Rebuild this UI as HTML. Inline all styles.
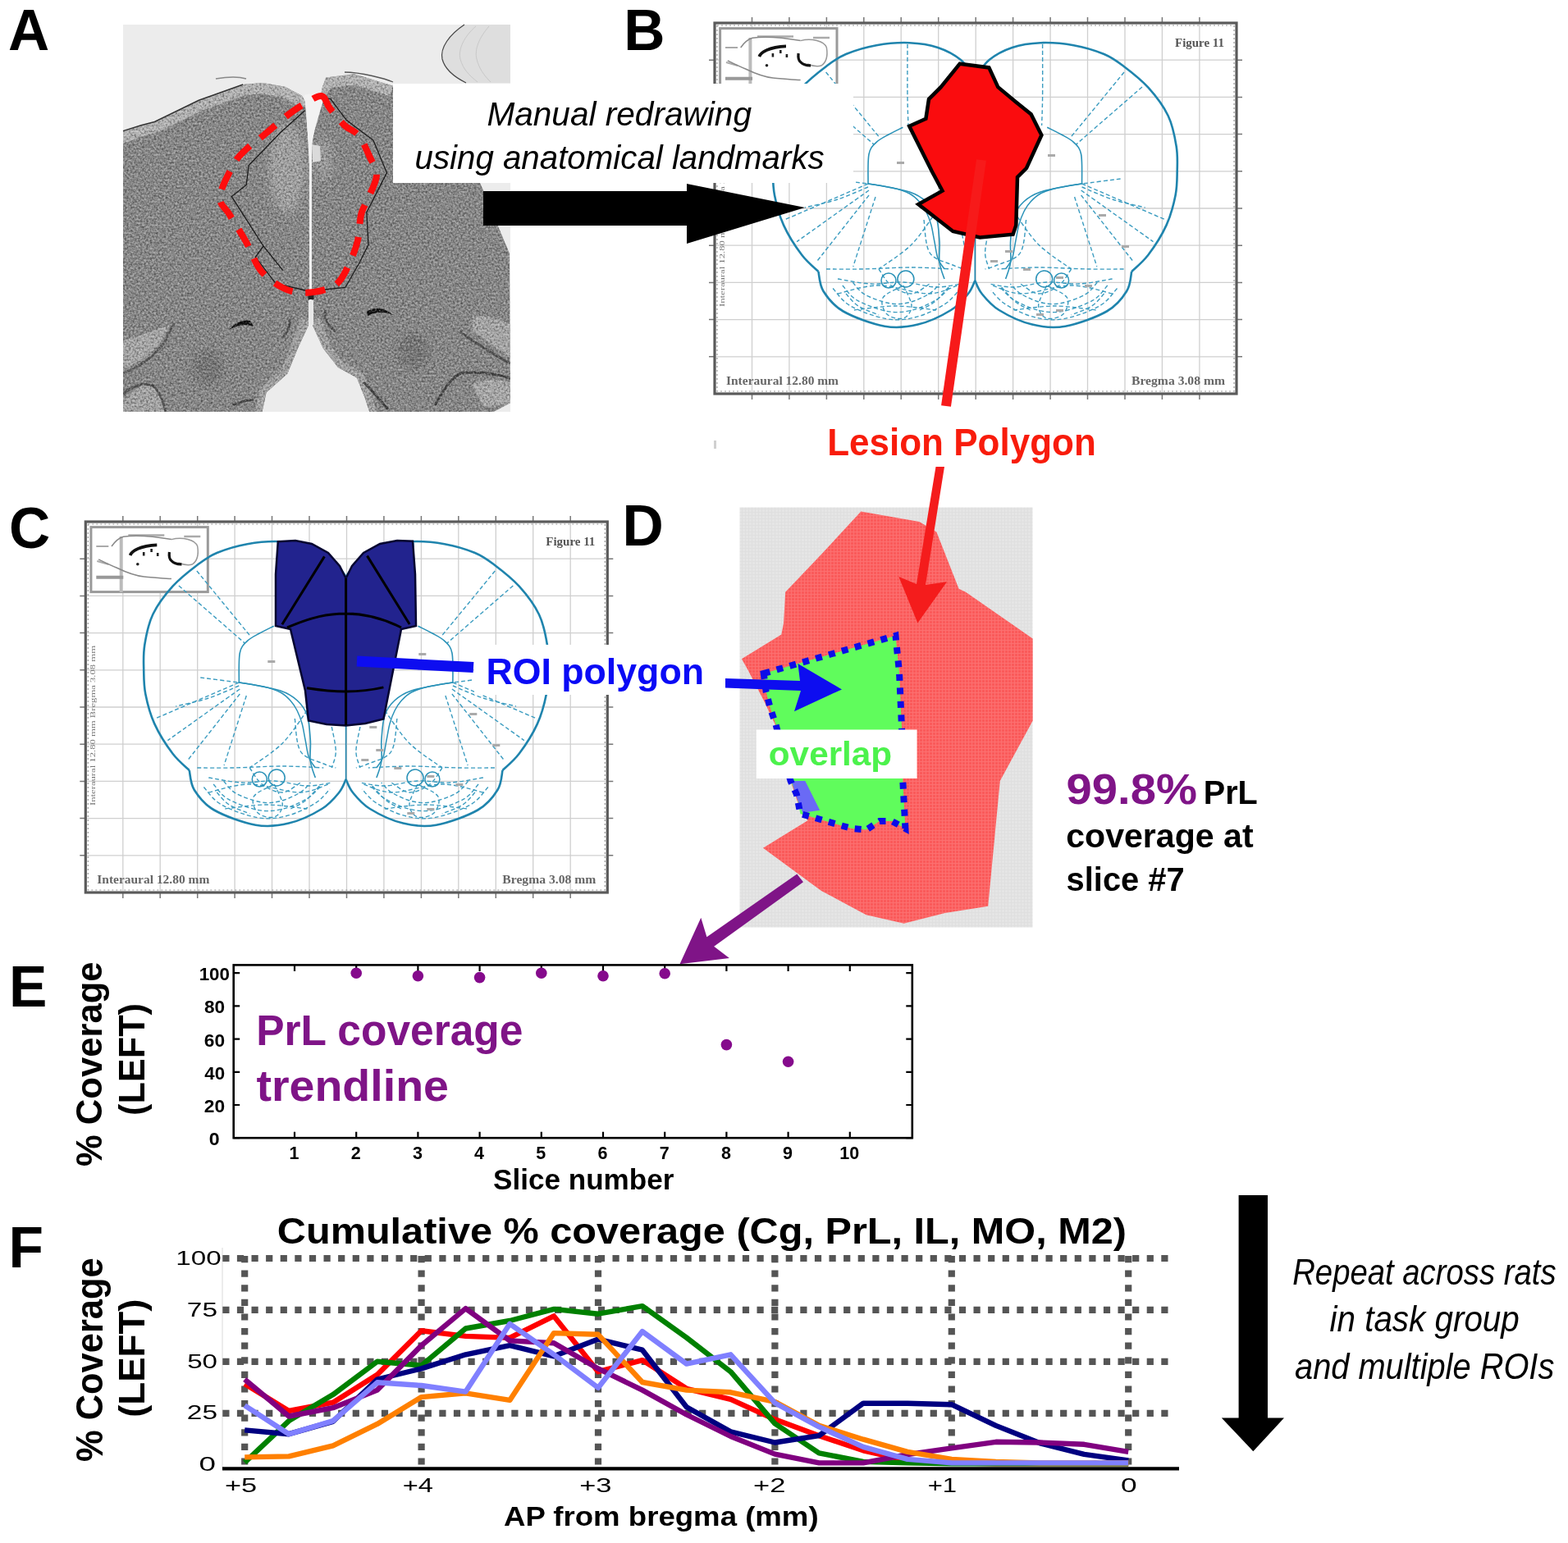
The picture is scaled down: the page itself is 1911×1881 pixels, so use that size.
<!DOCTYPE html><html><head><meta charset="utf-8"><style>html,body{margin:0;padding:0;background:#fff;overflow:hidden;}svg{display:block;}</style></head><body>
<svg width="1911" height="1881" viewBox="0 0 1911 1881" font-family='"Liberation Sans", Arial, Helvetica, sans-serif'>
<defs>
<g id="atlas">
<rect x="0" y="0" width="636" height="452" fill="#fff"/>
<path d="M45.5,2V450M90.9,2V450M136.4,2V450M181.8,2V450M227.2,2V450M272.7,2V450M318.2,2V450M363.6,2V450M409.1,2V450M454.5,2V450M500.0,2V450M545.4,2V450M590.9,2V450M2,45.2H634M2,90.4H634M2,135.6H634M2,180.8H634M2,226.0H634M2,271.2H634M2,316.4H634M2,361.6H634M2,406.8H634" stroke="#cfcfcf" stroke-width="1.3" fill="none"/>
<path d="M45.5,-7V0M45.5,452V459M90.9,-7V0M90.9,452V459M136.4,-7V0M136.4,452V459M181.8,-7V0M181.8,452V459M227.2,-7V0M227.2,452V459M272.7,-7V0M272.7,452V459M318.2,-7V0M318.2,452V459M363.6,-7V0M363.6,452V459M409.1,-7V0M409.1,452V459M454.5,-7V0M454.5,452V459M500.0,-7V0M500.0,452V459M545.4,-7V0M545.4,452V459M590.9,-7V0M590.9,452V459M-7,45.2H0M636,45.2H643M-7,90.4H0M636,90.4H643M-7,135.6H0M636,135.6H643M-7,180.8H0M636,180.8H643M-7,226.0H0M636,226.0H643M-7,271.2H0M636,271.2H643M-7,316.4H0M636,316.4H643M-7,361.6H0M636,361.6H643M-7,406.8H0M636,406.8H643" stroke="#777" stroke-width="1.5" fill="none"/>
<rect x="0" y="0" width="636" height="452" fill="none" stroke="#5a5a5a" stroke-width="3.2"/>
<rect x="3" y="3" width="630" height="446" fill="none" stroke="#9a9a9a" stroke-width="1.2" stroke-dasharray="2 3"/>
<rect x="6.6" y="6.6" width="142.4" height="79" fill="#fff" stroke="#9a9a9a" stroke-width="3"/>
<path d="M43.4,18V86" stroke="#bbb" stroke-width="4" fill="none"/>
<path d="M13,67.7H46" stroke="#999" stroke-width="4" fill="none"/>
<path d="M52,16.6H96M120,18H140" stroke="#aaa" stroke-width="2.5" fill="none"/>
<path d="M13,30H28M14,48L28,52" stroke="#aaa" stroke-width="2" fill="none"/>
<path d="M31.7,30C36,24 40,20 46,18.3C62,16 84,18 104.6,21.6M15.8,45.9C24,50 30,53 37.6,56C50,62 60,66 71.1,66.9C84,68 96,70 104.6,69.4" stroke="#888" stroke-width="1.5" fill="none"/>
<path d="M104.6,21.6C118,18 134,22 136.4,30C138,40 136,48 130,52C124,54 118,52 113,50" stroke="#999" stroke-width="1.5" fill="none"/>
<path d="M54.3,40.9C56,37 59,35 62.7,33.4C70,30 78,28.5 87,28.3" stroke="#111" stroke-width="3.8" fill="none"/>
<path d="M70.9,37V41.5M80.3,33V37M87.9,38V42" stroke="#222" stroke-width="2.6" fill="none"/>
<path d="M102.1,37C101.5,42 102.5,46 104.6,47.6C108,51 112,52 117.1,51.8" stroke="#111" stroke-width="3.2" fill="none"/>
<circle cx="63.5" cy="51.8" r="1.8" fill="#222"/>
<text x="561" y="29" font-family="Liberation Serif" font-size="15" font-weight="bold" fill="#555" textLength="60" lengthAdjust="spacingAndGlyphs">Figure 11</text>
<text x="14" y="441" font-family="Liberation Serif" font-size="15" font-weight="bold" fill="#666" textLength="137" lengthAdjust="spacingAndGlyphs">Interaural 12.80 mm</text>
<text x="508" y="441" font-family="Liberation Serif" font-size="15" font-weight="bold" fill="#666" textLength="114" lengthAdjust="spacingAndGlyphs">Bregma 3.08 mm</text>
<text x="12" y="346" font-family="Liberation Serif" font-size="8" fill="#777" transform="rotate(-90 12 346)" textLength="195" lengthAdjust="spacingAndGlyphs">Interaural 12.80 mm Bregma 3.08 mm</text>
<path d="M317.3,67.0 C314.4,63.3 307.6,51.2 300.0,45.0 C292.4,38.8 282.4,33.5 272.0,30.0 C261.6,26.5 250.0,24.7 237.5,24.2 C225.0,23.7 210.0,24.9 197.1,27.2 C184.2,29.5 170.1,33.8 160.0,38.0 C149.9,42.2 145.5,45.7 136.5,52.5 C127.5,59.3 115.3,68.6 106.2,78.7 C97.1,88.8 87.7,101.1 82.0,113.0 C76.3,124.9 73.8,138.8 72.0,150.0 C70.2,161.2 70.7,170.0 70.9,180.0 C71.1,190.0 70.8,198.9 73.0,210.0 C75.2,221.1 78.5,234.3 84.0,246.4 C89.5,258.5 99.1,273.4 106.2,282.8 C113.3,292.2 123.0,299.6 126.4,303.0" stroke="#1f84ad" stroke-width="2.6" fill="none"/>
<path d="M126.4,303.0 C127.4,307.0 127.5,318.9 132.5,327.0 C137.6,335.1 144.2,344.4 156.7,351.5 C169.1,358.6 192.0,367.0 207.2,369.7 C222.4,372.4 234.2,370.9 247.7,367.6 C261.2,364.3 277.8,356.3 288.0,350.0 C298.2,343.7 304.1,336.0 309.0,330.0 C313.9,324.0 315.9,316.7 317.3,314.0" stroke="#1f84ad" stroke-width="2.6" fill="none"/>
<path d="M317.3,67.0 C320.2,63.3 327.1,51.2 334.6,45.0 C342.2,38.8 352.2,33.5 362.6,30.0 C373.0,26.5 384.6,24.7 397.1,24.2 C409.6,23.7 424.6,24.9 437.5,27.2 C450.4,29.5 464.5,33.8 474.6,38.0 C484.7,42.2 489.1,45.7 498.1,52.5 C507.1,59.3 519.3,68.6 528.4,78.7 C537.5,88.8 546.9,101.1 552.6,113.0 C558.3,124.9 560.8,138.8 562.6,150.0 C564.5,161.2 563.9,170.0 563.7,180.0 C563.5,190.0 563.8,198.9 561.6,210.0 C559.4,221.1 556.1,234.3 550.6,246.4 C545.1,258.5 535.5,273.4 528.4,282.8 C521.3,292.2 511.6,299.6 508.2,303.0" stroke="#1f84ad" stroke-width="2.6" fill="none"/>
<path d="M508.2,303.0 C507.2,307.0 507.2,318.9 502.1,327.0 C497.1,335.1 490.4,344.4 477.9,351.5 C465.5,358.6 442.6,367.0 427.4,369.7 C412.2,372.4 400.4,370.9 386.9,367.6 C373.4,364.3 356.8,356.3 346.6,350.0 C336.4,343.7 330.5,336.0 325.6,330.0 C320.7,324.0 318.7,316.7 317.3,314.0" stroke="#1f84ad" stroke-width="2.6" fill="none"/>
<path d="M317.3,67V314" stroke="#1f84ad" stroke-width="1.6" fill="none"/>
<path d="M229.4,127.2 C226.5,128.7 217.4,133.0 212.0,136.0 C206.6,139.0 201.1,141.4 197.1,145.4 C193.1,149.4 189.7,151.6 188.0,160.0 C186.3,168.4 187.2,190.0 187.0,196.0" stroke="#2a92b8" stroke-width="1.6" fill="none"/>
<path d="M187.0,196.0 C189.2,196.3 191.6,196.3 200.0,198.0 C208.4,199.7 227.8,202.7 237.5,206.0 C247.2,209.3 252.6,213.0 258.0,218.0 C263.4,223.0 267.3,228.0 270.0,236.0 C272.7,244.0 273.3,256.7 274.0,266.0 C274.7,275.3 273.0,284.3 274.0,292.0 C275.0,299.7 279.0,308.7 280.0,312.0" stroke="#2a92b8" stroke-width="1.6" fill="none"/>
<path d="M405.2,127.2 C408.1,128.7 417.2,133.0 422.6,136.0 C428.0,139.0 433.5,141.4 437.5,145.4 C441.5,149.4 444.9,151.6 446.6,160.0 C448.3,168.4 447.4,190.0 447.6,196.0" stroke="#2a92b8" stroke-width="1.6" fill="none"/>
<path d="M447.6,196.0 C445.4,196.3 443.0,196.3 434.6,198.0 C426.2,199.7 406.8,202.7 397.1,206.0 C387.4,209.3 382.0,213.0 376.6,218.0 C371.2,223.0 367.3,228.0 364.6,236.0 C361.9,244.0 361.3,256.7 360.6,266.0 C359.9,275.3 361.6,284.3 360.6,292.0 C359.6,299.7 355.6,308.7 354.6,312.0" stroke="#2a92b8" stroke-width="1.6" fill="none"/>
<path d="M113.6,78.0 C127.0,89.7 180.6,136.3 194.0,148.0" stroke="#3b9cc0" stroke-width="1.4" stroke-dasharray="5 3" fill="none"/>
<path d="M135.6,60.0 C146.6,73.4 190.6,127.1 201.6,140.5" stroke="#3b9cc0" stroke-width="1.4" stroke-dasharray="5 3" fill="none"/>
<path d="M187.0,196.0 C169.8,203.4 101.2,233.0 84.0,240.4" stroke="#3b9cc0" stroke-width="1.4" stroke-dasharray="5 3" fill="none"/>
<path d="M188.0,204.0 C173.3,214.4 114.8,256.2 100.1,266.6" stroke="#3b9cc0" stroke-width="1.4" stroke-dasharray="5 3" fill="none"/>
<path d="M188.0,210.0 C177.4,223.5 135.0,277.4 124.4,290.9" stroke="#3b9cc0" stroke-width="1.4" stroke-dasharray="5 3" fill="none"/>
<path d="M196.0,212.0 C191.5,226.2 173.3,282.8 168.8,297.0" stroke="#3b9cc0" stroke-width="1.4" stroke-dasharray="5 3" fill="none"/>
<path d="M270.0,230.0 C265.0,236.7 251.7,258.3 240.0,270.0 C228.3,281.7 206.7,295.0 200.0,300.0" stroke="#3b9cc0" stroke-width="1.4" stroke-dasharray="5 3" fill="none"/>
<path d="M235.0,26.0 C235.0,36.7 234.8,73.5 235.0,90.0 C235.2,106.5 235.8,119.2 236.0,125.0" stroke="#3b9cc0" stroke-width="1.4" stroke-dasharray="5 3" fill="none"/>
<path d="M136.0,300.0 C143.3,300.0 162.7,300.3 180.0,300.0 C197.3,299.7 221.7,298.0 240.0,298.0 C258.3,298.0 281.7,299.7 290.0,300.0" stroke="#3b9cc0" stroke-width="1.4" stroke-dasharray="5 3" fill="none"/>
<path d="M150.0,330.0 C158.3,328.3 181.7,320.0 200.0,320.0 C218.3,320.0 244.0,330.0 260.0,330.0 C276.0,330.0 290.0,321.7 296.0,320.0" stroke="#3b9cc0" stroke-width="1.4" stroke-dasharray="5 3" fill="none"/>
<path d="M170.0,350.0 C178.3,349.2 203.3,345.0 220.0,345.0 C236.7,345.0 261.7,349.2 270.0,350.0" stroke="#3b9cc0" stroke-width="1.4" stroke-dasharray="5 3" fill="none"/>
<path d="M230.0,320.0 C231.7,324.2 240.0,338.3 240.0,345.0 C240.0,351.7 235.0,358.3 230.0,360.0 C225.0,361.7 214.2,359.2 210.0,355.0 C205.8,350.8 201.7,340.8 205.0,335.0 C208.3,329.2 225.8,322.5 230.0,320.0" stroke="#3b9cc0" stroke-width="1.4" stroke-dasharray="5 3" fill="none"/>
<path d="M255.0,240.0 C256.2,246.7 256.2,270.8 262.0,280.0 C267.8,289.2 282.8,291.7 290.0,295.0 C297.2,298.3 302.5,299.2 305.0,300.0" stroke="#3b9cc0" stroke-width="1.4" stroke-dasharray="5 3" fill="none"/>
<path d="M300.0,250.0 C300.8,255.0 305.0,271.7 305.0,280.0 C305.0,288.3 300.8,296.7 300.0,300.0" stroke="#3b9cc0" stroke-width="1.4" stroke-dasharray="5 3" fill="none"/>
<path d="M144.1,323.5 C147.6,327.0 154.4,338.6 165.2,344.8 C176.0,351.0 195.9,358.3 209.1,360.6 C222.3,363.0 232.6,361.7 244.4,358.8 C256.1,356.0 270.5,349.0 279.4,343.5 C288.3,338.0 294.6,329.0 297.7,326.1" stroke="#3b9cc0" stroke-width="1.4" stroke-dasharray="5 3" fill="none"/>
<path d="M155.8,320.0 C158.8,323.0 164.5,332.8 173.7,338.1 C182.9,343.4 199.8,349.6 211.0,351.6 C222.3,353.6 231.1,352.5 241.0,350.0 C251.0,347.6 263.3,341.6 270.8,337.0 C278.4,332.4 283.8,324.7 286.4,322.2" stroke="#3b9cc0" stroke-width="1.4" stroke-dasharray="5 3" fill="none"/>
<path d="M168.3,316.2 C170.7,318.6 175.3,326.6 182.8,330.9 C190.3,335.2 204.0,340.2 213.1,341.8 C222.2,343.4 229.3,342.5 237.4,340.6 C245.5,338.6 255.5,333.8 261.6,330.0 C267.7,326.2 272.1,320.0 274.2,318.0" stroke="#3b9cc0" stroke-width="1.4" stroke-dasharray="5 3" fill="none"/>
<path d="M150.0,312.0 C156.7,313.0 176.7,317.3 190.0,318.0 C203.3,318.7 216.7,315.3 230.0,316.0 C243.3,316.7 258.3,321.7 270.0,322.0 C281.7,322.3 295.0,318.7 300.0,318.0" stroke="#3b9cc0" stroke-width="1.4" stroke-dasharray="5 3" fill="none"/>
<path d="M200.0,300.0 C202.5,303.3 208.3,315.0 215.0,320.0 C221.7,325.0 232.2,330.3 240.0,330.0 C247.8,329.7 258.3,320.0 262.0,318.0" stroke="#3b9cc0" stroke-width="1.4" stroke-dasharray="5 3" fill="none"/>
<path d="M160.0,330.0 C162.5,332.5 168.3,340.7 175.0,345.0 C181.7,349.3 195.8,354.2 200.0,356.0" stroke="#3b9cc0" stroke-width="1.4" stroke-dasharray="5 3" fill="none"/>
<path d="M250.0,350.0 C253.0,348.3 262.2,344.7 268.0,340.0 C273.8,335.3 282.2,325.0 285.0,322.0" stroke="#3b9cc0" stroke-width="1.4" stroke-dasharray="5 3" fill="none"/>
<path d="M187.0,200.0 C180.8,202.5 162.8,210.8 150.0,215.0 C137.2,219.2 116.7,223.3 110.0,225.0" stroke="#3b9cc0" stroke-width="1.4" stroke-dasharray="5 3" fill="none"/>
<path d="M140.0,190.0 C147.8,191.0 179.2,195.0 187.0,196.0" stroke="#3b9cc0" stroke-width="1.4" stroke-dasharray="5 3" fill="none"/>
<path d="M521.0,78.0 C507.6,89.7 454.0,136.3 440.6,148.0" stroke="#3b9cc0" stroke-width="1.4" stroke-dasharray="5 3" fill="none"/>
<path d="M499.0,60.0 C488.0,73.4 444.0,127.1 433.0,140.5" stroke="#3b9cc0" stroke-width="1.4" stroke-dasharray="5 3" fill="none"/>
<path d="M447.6,196.0 C464.8,203.4 533.4,233.0 550.6,240.4" stroke="#3b9cc0" stroke-width="1.4" stroke-dasharray="5 3" fill="none"/>
<path d="M446.6,204.0 C461.2,214.4 519.9,256.2 534.5,266.6" stroke="#3b9cc0" stroke-width="1.4" stroke-dasharray="5 3" fill="none"/>
<path d="M446.6,210.0 C457.2,223.5 499.6,277.4 510.2,290.9" stroke="#3b9cc0" stroke-width="1.4" stroke-dasharray="5 3" fill="none"/>
<path d="M438.6,212.0 C443.1,226.2 461.3,282.8 465.8,297.0" stroke="#3b9cc0" stroke-width="1.4" stroke-dasharray="5 3" fill="none"/>
<path d="M364.6,230.0 C369.6,236.7 382.9,258.3 394.6,270.0 C406.3,281.7 427.9,295.0 434.6,300.0" stroke="#3b9cc0" stroke-width="1.4" stroke-dasharray="5 3" fill="none"/>
<path d="M399.6,26.0 C399.6,36.7 399.8,73.5 399.6,90.0 C399.4,106.5 398.8,119.2 398.6,125.0" stroke="#3b9cc0" stroke-width="1.4" stroke-dasharray="5 3" fill="none"/>
<path d="M498.6,300.0 C491.3,300.0 471.9,300.3 454.6,300.0 C437.3,299.7 412.9,298.0 394.6,298.0 C376.3,298.0 352.9,299.7 344.6,300.0" stroke="#3b9cc0" stroke-width="1.4" stroke-dasharray="5 3" fill="none"/>
<path d="M484.6,330.0 C476.3,328.3 452.9,320.0 434.6,320.0 C416.3,320.0 390.6,330.0 374.6,330.0 C358.6,330.0 344.6,321.7 338.6,320.0" stroke="#3b9cc0" stroke-width="1.4" stroke-dasharray="5 3" fill="none"/>
<path d="M464.6,350.0 C456.3,349.2 431.3,345.0 414.6,345.0 C397.9,345.0 372.9,349.2 364.6,350.0" stroke="#3b9cc0" stroke-width="1.4" stroke-dasharray="5 3" fill="none"/>
<path d="M404.6,320.0 C402.9,324.2 394.6,338.3 394.6,345.0 C394.6,351.7 399.6,358.3 404.6,360.0 C409.6,361.7 420.4,359.2 424.6,355.0 C428.8,350.8 432.9,340.8 429.6,335.0 C426.3,329.2 408.8,322.5 404.6,320.0" stroke="#3b9cc0" stroke-width="1.4" stroke-dasharray="5 3" fill="none"/>
<path d="M379.6,240.0 C378.4,246.7 378.4,270.8 372.6,280.0 C366.8,289.2 351.8,291.7 344.6,295.0 C337.4,298.3 332.1,299.2 329.6,300.0" stroke="#3b9cc0" stroke-width="1.4" stroke-dasharray="5 3" fill="none"/>
<path d="M334.6,250.0 C333.8,255.0 329.6,271.7 329.6,280.0 C329.6,288.3 333.8,296.7 334.6,300.0" stroke="#3b9cc0" stroke-width="1.4" stroke-dasharray="5 3" fill="none"/>
<path d="M490.5,323.5 C487.0,327.0 480.2,338.6 469.4,344.8 C458.6,351.0 438.7,358.3 425.5,360.6 C412.3,363.0 402.0,361.7 390.2,358.8 C378.5,356.0 364.1,349.0 355.2,343.5 C346.3,338.0 340.0,329.0 336.9,326.1" stroke="#3b9cc0" stroke-width="1.4" stroke-dasharray="5 3" fill="none"/>
<path d="M478.8,320.0 C475.8,323.0 470.1,332.8 460.9,338.1 C451.7,343.4 434.8,349.6 423.6,351.6 C412.3,353.6 403.5,352.5 393.6,350.0 C383.6,347.6 371.3,341.6 363.8,337.0 C356.2,332.4 350.8,324.7 348.2,322.2" stroke="#3b9cc0" stroke-width="1.4" stroke-dasharray="5 3" fill="none"/>
<path d="M466.3,316.2 C463.9,318.6 459.2,326.6 451.8,330.9 C444.3,335.2 430.6,340.2 421.5,341.8 C412.4,343.4 405.3,342.5 397.2,340.6 C389.1,338.6 379.1,333.8 373.0,330.0 C366.9,326.2 362.5,320.0 360.4,318.0" stroke="#3b9cc0" stroke-width="1.4" stroke-dasharray="5 3" fill="none"/>
<path d="M484.6,312.0 C477.9,313.0 457.9,317.3 444.6,318.0 C431.3,318.7 417.9,315.3 404.6,316.0 C391.3,316.7 376.3,321.7 364.6,322.0 C352.9,322.3 339.6,318.7 334.6,318.0" stroke="#3b9cc0" stroke-width="1.4" stroke-dasharray="5 3" fill="none"/>
<path d="M434.6,300.0 C432.1,303.3 426.3,315.0 419.6,320.0 C412.9,325.0 402.4,330.3 394.6,330.0 C386.8,329.7 376.3,320.0 372.6,318.0" stroke="#3b9cc0" stroke-width="1.4" stroke-dasharray="5 3" fill="none"/>
<path d="M474.6,330.0 C472.1,332.5 466.3,340.7 459.6,345.0 C452.9,349.3 438.8,354.2 434.6,356.0" stroke="#3b9cc0" stroke-width="1.4" stroke-dasharray="5 3" fill="none"/>
<path d="M384.6,350.0 C381.6,348.3 372.4,344.7 366.6,340.0 C360.8,335.3 352.4,325.0 349.6,322.0" stroke="#3b9cc0" stroke-width="1.4" stroke-dasharray="5 3" fill="none"/>
<path d="M447.6,200.0 C453.8,202.5 471.8,210.8 484.6,215.0 C497.4,219.2 517.9,223.3 524.6,225.0" stroke="#3b9cc0" stroke-width="1.4" stroke-dasharray="5 3" fill="none"/>
<path d="M494.6,190.0 C486.8,191.0 455.4,195.0 447.6,196.0" stroke="#3b9cc0" stroke-width="1.4" stroke-dasharray="5 3" fill="none"/>
<circle cx="232.9" cy="312.0" r="10.0" stroke="#2a92b8" stroke-width="1.5" fill="none"/>
<circle cx="212.0" cy="314.0" r="9.0" stroke="#2a92b8" stroke-width="1.5" fill="none"/>
<circle cx="401.7" cy="312.0" r="10.0" stroke="#2a92b8" stroke-width="1.5" fill="none"/>
<circle cx="422.6" cy="314.0" r="9.0" stroke="#2a92b8" stroke-width="1.5" fill="none"/>
<path d="M187.0,196.0 C192.0,196.8 208.6,199.0 217.0,201.0 C225.4,203.0 232.1,205.2 237.5,208.0 C242.9,210.8 246.2,214.3 249.6,218.0 C253.0,221.7 255.3,225.3 257.7,230.0 C260.1,234.7 262.1,240.0 263.8,246.0 C265.5,252.0 266.4,259.2 267.8,266.0 C269.2,272.8 270.0,281.3 272.0,287.0 C274.0,292.7 278.7,297.8 280.0,300.0" stroke="#2a92b8" stroke-width="1.5" fill="none"/>
<path d="M447.6,196.0 C442.6,196.8 426.0,199.0 417.6,201.0 C409.2,203.0 402.5,205.2 397.1,208.0 C391.7,210.8 388.4,214.3 385.0,218.0 C381.6,221.7 379.3,225.3 376.9,230.0 C374.5,234.7 372.5,240.0 370.8,246.0 C369.1,252.0 368.2,259.2 366.8,266.0 C365.4,272.8 364.6,281.3 362.6,287.0 C360.6,292.7 355.9,297.8 354.6,300.0" stroke="#2a92b8" stroke-width="1.5" fill="none"/>
<rect x="222" y="169" width="9" height="3" fill="#aaa"/>
<rect x="406" y="160" width="9" height="3" fill="#aaa"/>
<rect x="468" y="233" width="9" height="3" fill="#aaa"/>
<rect x="496" y="271" width="9" height="3" fill="#aaa"/>
<rect x="346" y="249" width="9" height="3" fill="#aaa"/>
<rect x="354" y="277" width="9" height="3" fill="#aaa"/>
<rect x="336" y="289" width="9" height="3" fill="#aaa"/>
<rect x="376" y="299" width="9" height="3" fill="#aaa"/>
<rect x="416" y="309" width="9" height="3" fill="#aaa"/>
<rect x="451" y="319" width="9" height="3" fill="#aaa"/>
<rect x="416" y="349" width="9" height="3" fill="#aaa"/>
<rect x="392" y="354" width="9" height="3" fill="#aaa"/>
</g>
<pattern id="dgrid" width="4" height="4" patternUnits="userSpaceOnUse"><rect width="4" height="4" fill="#e5e5e5"/><path d="M0,0.5H4M0.5,0V4" stroke="#dfdfdf" stroke-width="1"/></pattern>
<pattern id="pgrid" width="4" height="4" patternUnits="userSpaceOnUse"><rect width="4" height="4" fill="#fa5a5a"/><path d="M0,0.5H4M0.5,0V4" stroke="#fc7070" stroke-width="1"/></pattern>
<filter id="noise" x="0" y="0" width="100%" height="100%" color-interpolation-filters="sRGB"><feTurbulence type="fractalNoise" baseFrequency="0.42" numOctaves="2" seed="7" result="t"/><feColorMatrix in="t" type="matrix" values="0 0 0 0 0  0 0 0 0 0  0 0 0 0 0  3 0 0 0 -1.5" result="dk"/><feColorMatrix in="t" type="matrix" values="0 0 0 0 1  0 0 0 0 1  0 0 0 0 1  -3 0 0 0 1.5" result="lt"/><feMerge><feMergeNode in="dk"/><feMergeNode in="lt"/></feMerge></filter>
<filter id="soft" x="-50%" y="-50%" width="200%" height="200%"><feGaussianBlur stdDeviation="5"/></filter>
</defs>
<rect width="1911" height="1881" fill="#fff"/>
<g id="panelA">
<rect x="150" y="30" width="472" height="472" fill="#ececec"/>
<path d="M622,30 L566,30 C548,42 536,58 539,72 C542,84 554,94 568,101 L622,101Z" fill="#dedede"/>
<path d="M566,30 C548,42 536,58 539,72 C542,84 554,94 568,101" fill="none" stroke="#444" stroke-width="1.2"/>
<path d="M580,32 C566,44 558,60 561,72 C564,84 572,92 582,100 M596,32 C584,46 578,60 581,72 C584,84 590,92 598,100" fill="none" stroke="#c8c8c8" stroke-width="1"/>
<clipPath id="tissueClip"><path d="M150.0,159.6 L172.0,152.7 L188.4,148.5 L242.3,122.3 L296.2,103.0 L320.0,101.0 L347.3,105.7 L368.0,116.7 L372.5,125.0 L374.5,160.0 L377.0,200.0 L377.5,300.0 L377.5,355.0 L376.0,396.4 L363.0,424.6 L350.3,455.4 L324.6,478.5 L319.5,502.0 L150.0,502.0Z M380.0,180.0 L384.0,150.0 L389.0,125.0 L393.0,106.0 L397.3,94.6 L431.8,90.3 L479.1,104.7 L479.0,223.0 L585.0,223.0 L589.0,232.0 L600.0,255.0 L607.5,277.0 L621.0,309.0 L622.0,491.3 L601.5,502.0 L450.3,502.0 L445.1,486.0 L434.9,460.5 L411.8,447.7 L393.8,424.6 L381.0,396.4 L379.5,355.0 L379.5,300.0Z"/></clipPath>
<g clip-path="url(#tissueClip)">
<rect x="150" y="80" width="472" height="422" fill="#878787"/>
<path d="M140.0,165.0 L172.0,152.7 L188.4,148.5 L242.3,122.3 L296.2,103.0 L320.0,101.0 L347.3,105.7 L368.0,116.7 L376.0,125.0" fill="none" stroke="#b2b2b2" stroke-width="26"/>
<path d="M385.0,110.0 L397.3,94.6 L431.8,90.3 L479.1,104.7" fill="none" stroke="#b2b2b2" stroke-width="26"/>
<path d="M376.0,390.0 L363.0,424.6 L350.3,455.4 L324.6,478.5 L319.5,505.0" fill="none" stroke="#a0a0a0" stroke-width="18"/>
<path d="M382.0,390.0 L393.8,424.6 L411.8,447.7 L434.9,460.5 L445.1,486.0 L450.3,505.0" fill="none" stroke="#a0a0a0" stroke-width="18"/>
<ellipse cx="350" cy="205" rx="22" ry="55" fill="#a0a0a0" filter="url(#soft)"/>
<ellipse cx="395" cy="195" rx="10" ry="28" fill="#9a9a9a" filter="url(#soft)"/>
<path d="M145,452 C165,445 185,432 195,418 C200,410 204,402 207,396 C195,400 175,408 160,412 C150,415 146,418 145,420Z" fill="#a6a6a6"/>
<path d="M150,455 C170,448 190,432 200,418 C205,410 208,400 212,394" fill="none" stroke="#5a5a5a" stroke-width="3"/>
<path d="M145,500 C150,488 160,478 172,470 C185,466 195,476 200,492 L202,502 L145,502Z" fill="#a3a3a3"/>
<path d="M150,480 C162,470 176,466 186,470 C194,476 198,488 202,502" fill="none" stroke="#555" stroke-width="3"/>
<ellipse cx="253" cy="448" rx="19" ry="21" fill="#767676" filter="url(#soft)"/>
<ellipse cx="504" cy="428" rx="19" ry="22" fill="#767676" filter="url(#soft)"/>
<path d="M279,402 C288,392 298,389 305,391 L309,398 C300,394 290,396 279,402Z" fill="#111"/>
<path d="M447,380 C455,374 468,374 479,384 C468,380 457,380 448,385Z" fill="#111"/>
<path d="M345,412 C352,402 354,394 353,388" fill="none" stroke="#555" stroke-width="3"/>
<path d="M397,378 C394,386 398,396 409,404" fill="none" stroke="#555" stroke-width="3"/>
<path d="M283,494 C292,490 300,488 309,487" fill="none" stroke="#444" stroke-width="2.5"/>
<path d="M576,386 C595,384 612,390 622,396 L622,436 C610,428 590,412 576,404Z" fill="#a6a6a6"/>
<path d="M560,404 C580,418 600,432 622,443" fill="none" stroke="#555" stroke-width="3"/>
<path d="M576,468 C590,462 608,462 622,466 L622,492 L590,496 C584,486 578,476 576,468Z" fill="#a8a8a8"/>
<path d="M530,494 C540,476 550,460 562,455 C585,452 605,456 622,461" fill="none" stroke="#444" stroke-width="3"/>
<path d="M443,466 C452,474 460,484 473,499" fill="none" stroke="#444" stroke-width="3"/>
<rect x="150" y="80" width="472" height="422" filter="url(#noise)" opacity="0.4"/>
</g>
<path d="M150.0,159.6 L172.0,152.7 L188.4,148.5 L242.3,122.3 L296.2,103.0" fill="none" stroke="#333" stroke-width="1.5"/>
<path d="M263,96 C275,94 290,93 300,96" fill="none" stroke="#888" stroke-width="1.5"/>
<path d="M420,88 C440,88 470,96 479,100" fill="none" stroke="#555" stroke-width="1.3"/>
<path d="M370.8,116 C377,114 388,113 396,117 C390,135 384,155 380,174 L379.8,200 L380,355 L377,355 L376.8,200 L376,174 C374,150 372.5,130 370.8,116Z" fill="#f2f2f2"/>
<path d="M380,176 L390,178 L391,196 L381,198Z" fill="#dadada"/>
<rect x="375.5" y="357" width="7" height="8" fill="#222"/>
<rect x="376" y="366" width="6" height="30" fill="#e8e8e8"/>
<path d="M397.0,119.8 L402.9,120.5 L422.3,146.6 L455.0,171.1 L471.4,210.6 L446.8,259.0 L449.0,298.4 L438.6,319.2 L420.8,350.5 L376.1,355.0 L335.9,345.3 L311.4,313.3 L321.0,299.9 L282.3,239.6 L300.2,225.5 L303.2,201.6 L341.9,161.5 L371.6,134.7" fill="none" stroke="#1a1a1a" stroke-width="1.3"/>
<path d="M321,299.9 L344.8,329.7" fill="none" stroke="#1a1a1a" stroke-width="1.3"/>
<path d="M392.0,117.0 C397.0,118.0 397.3,126.0 402.0,132.0 C406.7,138.0 414.2,147.5 420.0,153.0 C425.8,158.5 432.0,158.8 437.0,165.0 C442.0,171.2 446.3,181.8 450.0,190.0 C453.7,198.2 459.5,204.8 459.0,214.0 C458.5,223.2 450.2,237.0 447.0,245.0 C443.8,253.0 441.8,254.0 440.0,262.0 C438.2,270.0 438.0,284.0 436.0,293.0 C434.0,302.0 431.5,308.0 428.0,316.0 C424.5,324.0 419.7,335.0 415.0,341.0 C410.3,347.0 407.5,349.3 400.0,352.0 C392.5,354.7 379.2,357.2 370.0,357.0 C360.8,356.8 353.7,355.5 345.0,351.0 C336.3,346.5 325.5,339.3 318.0,330.0 C310.5,320.7 306.3,306.3 300.0,295.0 C293.7,283.7 285.3,271.2 280.0,262.0 C274.7,252.8 267.2,250.3 268.0,240.0 C268.8,229.7 279.7,209.7 285.0,200.0 C290.3,190.3 294.2,187.7 300.0,182.0 C305.8,176.3 311.5,173.0 320.0,166.0 C328.5,159.0 342.3,146.7 351.0,140.0 C359.7,133.3 365.2,129.8 372.0,126.0 C378.8,122.2 387.0,116.0 392.0,117.0Z" fill="none" stroke="#ff0d0d" stroke-width="8" stroke-dasharray="24 16"/>
</g>
<use href="#atlas" transform="translate(871,28)"/>
<rect x="479" y="102" width="561" height="121" fill="#fff"/>
<text x="593.4" y="152.8" font-size="40.5" font-weight="normal" font-style="italic" fill="#000" text-anchor="start" textLength="322.6" lengthAdjust="spacingAndGlyphs">Manual redrawing</text>
<text x="505.5" y="205.6" font-size="40.5" font-weight="normal" font-style="italic" fill="#000" text-anchor="start" textLength="499.2" lengthAdjust="spacingAndGlyphs">using anatomical landmarks</text>
<polygon points="589,233 837,233 837,224 981,253 837,297 837,275 589,275" fill="#000"/>
<polygon points="1169.8,77.7 1205.3,82.4 1216.3,106.2 1238.3,124.5 1256.6,139.2 1269.4,164.8 1251.0,205.0 1240.0,216.0 1238.3,274.7 1234.6,285.7 1194.3,289.4 1161.4,282.0 1119.2,249.0 1148.5,232.6 1135.7,208.8 1108.2,153.8 1128.4,144.7 1132.0,120.9 1146.7,106.2" fill="#fa0c0e" stroke="#000" stroke-width="4.5" stroke-linejoin="miter"/>
<line x1="1196" y1="195" x2="1153" y2="495" stroke="#f71a1a" stroke-width="12"/>
<use href="#atlas" transform="translate(104.3,636)"/>
<polygon points="338.8,660.2 360.0,659.0 380.0,663.0 400.0,674.0 414.0,690.0 421.6,705.0 429.0,690.0 443.0,674.0 463.0,663.0 484.0,659.0 503.0,659.7 506.0,700.0 507.0,763.0 489.0,767.0 467.4,876.4 445.0,882.0 421.6,884.4 398.0,883.0 376.0,878.4 372.0,842.0 354.0,767.0 336.0,763.0 336.0,700.0" fill="#22238e" stroke="#050530" stroke-width="2.5"/>
<path d="M395.4,678.4 L343.8,761.2 M447.5,677.6 L499.2,761 M350,765 C380,752 400,748 421.6,748 C443,748 463,752 489,765 M374,838.7 C395,842 410,843 421.6,843 C433,843 450,842 467.4,837.9 M421.6,705 V884" stroke="#000" stroke-width="3" fill="none"/>
<rect x="578" y="786" width="300" height="61" fill="#fff"/>
<line x1="435" y1="806" x2="577" y2="813.6" stroke="#0d0df0" stroke-width="13"/>
<text x="592.4" y="834.0" font-size="44.5" font-weight="bold" font-style="normal" fill="#0a0af5" text-anchor="start" textLength="265.6" lengthAdjust="spacingAndGlyphs">ROI polygon</text>
<rect x="870" y="537" width="3" height="10" fill="#d0d0d0"/>
<text x="1008.2" y="554.8" font-size="45.7" font-weight="bold" font-style="normal" fill="#f81c0c" text-anchor="start" textLength="327.6" lengthAdjust="spacingAndGlyphs">Lesion Polygon</text>
<rect x="901.5" y="618.5" width="357" height="512" fill="url(#dgrid)"/>
<polygon points="1049.3,623.5 1120.4,636.0 1141.4,648.6 1168.6,717.7 1177.0,721.8 1258.6,778.4 1258.6,878.8 1218.8,952.0 1204.2,1104.8 1151.8,1113.0 1101.6,1125.8 1055.6,1115.3 1001.0,1086.0 930.0,1033.7 984.4,1000.2 975.4,987.8 963.5,952.0 944.1,882.0 930.7,853.8 911.4,816.6 903.9,803.2 952.3,773.4 955.0,760.0 957.2,721.8 1001.0,675.8" fill="url(#pgrid)"/>
<polygon points="930.7,821.0 972.4,809.0 1091.5,774.9 1096.0,819.5 1099.0,886.5 1100.4,953.5 1103.4,1010.0 1087.0,1001.0 1072.0,1001.0 1055.8,1011.6 1037.9,1010.0 1006.7,1001.0 987.3,995.2 975.4,992.2 970.9,968.4 963.5,952.0 945.6,883.6 938.2,861.2 933.7,843.4" fill="#60fc5c"/>
<polygon points="965,952 981.3,952 999.2,987.8 978.4,990.8 969.4,968.4" fill="#6a6af5"/>
<polygon points="930.7,821.0 972.4,809.0 1091.5,774.9 1096.0,819.5 1099.0,886.5 1100.4,953.5 1103.4,1010.0 1087.0,1001.0 1072.0,1001.0 1055.8,1011.6 1037.9,1010.0 1006.7,1001.0 987.3,995.2 975.4,992.2 970.9,968.4 963.5,952.0 945.6,883.6 938.2,861.2 933.7,843.4" fill="none" stroke="#0c0ce8" stroke-width="8" stroke-dasharray="8 8.5"/>
<rect x="921.8" y="889.5" width="195.8" height="59.5" fill="#fff"/>
<text x="936.8" y="932.7" font-size="41.5" font-weight="bold" font-style="normal" fill="#4cf24c" text-anchor="start" textLength="150.4" lengthAdjust="spacingAndGlyphs">overlap</text>
<polygon points="884,827 975,830 972.4,809 1026,840.4 968,867.2 976,842 884,838.4" fill="#0d0df0"/>
<polygon points="1140.5,569 1151,569 1128,713 1154,709.3 1118.4,759.5 1095.3,703 1117,712" fill="#f41c1c"/>
<polygon points="971.3,1065.4 979,1075.3 870.2,1153.8 888.9,1168.1 828.5,1175.3 854.3,1118.7 861.4,1142.3" fill="#7f1487"/>
<text x="1299.6" y="980.4" font-size="52.0" font-weight="bold" font-style="normal" fill="#7f1487" text-anchor="start" textLength="159.4" lengthAdjust="spacingAndGlyphs">99.8%</text>
<text x="1466.8" y="980.4" font-size="40.2" font-weight="bold" font-style="normal" fill="#000" text-anchor="start" textLength="66.0" lengthAdjust="spacingAndGlyphs">PrL</text>
<text x="1299.2" y="1033.3" font-size="41.0" font-weight="bold" font-style="normal" fill="#000" text-anchor="start" textLength="228.4" lengthAdjust="spacingAndGlyphs">coverage at</text>
<text x="1299.6" y="1085.7" font-size="41.0" font-weight="bold" font-style="normal" fill="#000" text-anchor="start" textLength="144.0" lengthAdjust="spacingAndGlyphs">slice #7</text>
<rect x="284.7" y="1176.4" width="827.1" height="210.8" fill="none" stroke="#000" stroke-width="2.6"/>
<text x="254.77" y="1396.20" font-size="21.40" font-weight="bold" font-style="normal" fill="#000" textLength="12.88" lengthAdjust="spacingAndGlyphs">0</text>
<text x="248.81" y="1356.00" font-size="21.40" font-weight="bold" font-style="normal" fill="#000" textLength="25.26" lengthAdjust="spacingAndGlyphs">20</text>
<text x="249.27" y="1315.80" font-size="21.40" font-weight="bold" font-style="normal" fill="#000" textLength="24.78" lengthAdjust="spacingAndGlyphs">40</text>
<text x="248.81" y="1275.60" font-size="21.40" font-weight="bold" font-style="normal" fill="#000" textLength="25.26" lengthAdjust="spacingAndGlyphs">60</text>
<text x="248.92" y="1235.40" font-size="21.40" font-weight="bold" font-style="normal" fill="#000" textLength="25.13" lengthAdjust="spacingAndGlyphs">80</text>
<text x="242.65" y="1195.20" font-size="21.40" font-weight="bold" font-style="normal" fill="#000" textLength="37.33" lengthAdjust="spacingAndGlyphs">100</text>
<text x="358.5" y="1413.0" font-size="21.5" font-weight="bold" font-style="normal" fill="#000" text-anchor="middle">1</text>
<text x="433.7" y="1413.0" font-size="21.5" font-weight="bold" font-style="normal" fill="#000" text-anchor="middle">2</text>
<text x="508.9" y="1413.0" font-size="21.5" font-weight="bold" font-style="normal" fill="#000" text-anchor="middle">3</text>
<text x="584.1" y="1413.0" font-size="21.5" font-weight="bold" font-style="normal" fill="#000" text-anchor="middle">4</text>
<text x="659.3" y="1413.0" font-size="21.5" font-weight="bold" font-style="normal" fill="#000" text-anchor="middle">5</text>
<text x="734.5" y="1413.0" font-size="21.5" font-weight="bold" font-style="normal" fill="#000" text-anchor="middle">6</text>
<text x="809.7" y="1413.0" font-size="21.5" font-weight="bold" font-style="normal" fill="#000" text-anchor="middle">7</text>
<text x="884.9" y="1413.0" font-size="21.5" font-weight="bold" font-style="normal" fill="#000" text-anchor="middle">8</text>
<text x="960.1" y="1413.0" font-size="21.5" font-weight="bold" font-style="normal" fill="#000" text-anchor="middle">9</text>
<text x="1035.3" y="1413.0" font-size="21.5" font-weight="bold" font-style="normal" fill="#000" text-anchor="middle">10</text>
<path d="M284.7,1387.2h7.5M1111.8,1387.2h-7.5M284.7,1347.0h7.5M1111.8,1347.0h-7.5M284.7,1306.8h7.5M1111.8,1306.8h-7.5M284.7,1266.6h7.5M1111.8,1266.6h-7.5M284.7,1226.4h7.5M1111.8,1226.4h-7.5M284.7,1186.2h7.5M1111.8,1186.2h-7.5M359.0,1387.2v-7.5M359.0,1176.4v7.5M434.2,1387.2v-7.5M434.2,1176.4v7.5M509.4,1387.2v-7.5M509.4,1176.4v7.5M584.6,1387.2v-7.5M584.6,1176.4v7.5M659.8,1387.2v-7.5M659.8,1176.4v7.5M735.0,1387.2v-7.5M735.0,1176.4v7.5M810.2,1387.2v-7.5M810.2,1176.4v7.5M885.4,1387.2v-7.5M885.4,1176.4v7.5M960.6,1387.2v-7.5M960.6,1176.4v7.5M1035.8,1387.2v-7.5M1035.8,1176.4v7.5" stroke="#000" stroke-width="2.2" fill="none"/>
<circle cx="434.2" cy="1186.2" r="6.8" fill="#850a8c"/>
<circle cx="509.4" cy="1189.8" r="6.8" fill="#850a8c"/>
<circle cx="584.6" cy="1191.6" r="6.8" fill="#850a8c"/>
<circle cx="659.8" cy="1186.2" r="6.8" fill="#850a8c"/>
<circle cx="735.0" cy="1189.8" r="6.8" fill="#850a8c"/>
<circle cx="810.2" cy="1186.8" r="6.8" fill="#850a8c"/>
<circle cx="885.4" cy="1273.6" r="6.8" fill="#850a8c"/>
<circle cx="960.6" cy="1294.3" r="6.8" fill="#850a8c"/>
<text x="312.2" y="1274.0" font-size="52.4" font-weight="bold" font-style="normal" fill="#7f1487" text-anchor="start" textLength="325.2" lengthAdjust="spacingAndGlyphs">PrL coverage</text>
<text x="312.4" y="1341.8" font-size="53.5" font-weight="bold" font-style="normal" fill="#7f1487" text-anchor="start" textLength="234.6" lengthAdjust="spacingAndGlyphs">trendline</text>
<text x="601.0" y="1449.5" font-size="35.6" font-weight="bold" font-style="normal" fill="#000" text-anchor="start" textLength="220.4" lengthAdjust="spacingAndGlyphs">Slice number</text>
<text x="124.0" y="1422.0" font-size="44.5" font-weight="bold" font-style="normal" fill="#000" text-anchor="start" textLength="249.5" lengthAdjust="spacingAndGlyphs" transform="rotate(-90 124 1422)">% Coverage</text>
<text x="175.8" y="1360.0" font-size="43.5" font-weight="bold" font-style="normal" fill="#000" text-anchor="start" textLength="137.0" lengthAdjust="spacingAndGlyphs" transform="rotate(-90 175.8 1360)">(LEFT)</text>
<line x1="271" y1="1521" x2="271" y2="1790" stroke="#e6e6e6" stroke-width="1.5"/>
<path d="M271.3,1722.8H1424M271.3,1659.8H1424M271.3,1596.9H1424M271.3,1534.0H1424M1375.2,1531V1787M1159.8,1531V1787M944.4,1531V1787M729.0,1531V1787M513.6,1531V1787M298.2,1531V1787" stroke="#555" stroke-width="8.2" stroke-dasharray="8.2 9.4" fill="none"/>
<polyline points="298.2,1687.0 352.1,1720.0 405.9,1709.7 459.8,1675.7 513.6,1622.3 567.5,1628.9 621.3,1630.9 675.1,1604.4 729.0,1672.2 782.9,1658.1 836.7,1692.8 890.5,1705.9 944.4,1730.3 998.2,1750.2 1052.1,1768.3 1106.0,1780.4 1159.8,1783.4 1213.7,1784.4 1267.5,1784.4 1321.3,1784.4 1375.2,1784.4" fill="none" stroke="#ff0000" stroke-width="6.4" stroke-linejoin="round"/>
<polyline points="298.2,1782.9 352.1,1732.1 405.9,1700.1 459.8,1659.8 513.6,1664.6 567.5,1619.5 621.3,1610.0 675.1,1595.9 729.0,1601.7 782.9,1592.1 836.7,1630.6 890.5,1672.2 944.4,1735.4 998.2,1771.4 1052.1,1781.9 1106.0,1783.4 1159.8,1784.4 1213.7,1784.4 1267.5,1784.4 1321.3,1784.4 1375.2,1784.4" fill="none" stroke="#008000" stroke-width="6.4" stroke-linejoin="round"/>
<polyline points="298.2,1743.4 352.1,1748.2 405.9,1732.8 459.8,1681.5 513.6,1668.4 567.5,1651.3 621.3,1640.2 675.1,1653.3 729.0,1632.6 782.9,1645.7 836.7,1715.2 890.5,1745.4 944.4,1758.5 998.2,1750.2 1052.1,1710.7 1106.0,1710.7 1159.8,1712.2 1213.7,1737.9 1267.5,1759.3 1321.3,1772.9 1375.2,1780.4" fill="none" stroke="#000080" stroke-width="6.4" stroke-linejoin="round"/>
<polyline points="298.2,1681.5 352.1,1726.5 405.9,1716.2 459.8,1694.6 513.6,1640.2 567.5,1595.1 621.3,1634.4 675.1,1637.2 729.0,1668.4 782.9,1694.6 836.7,1724.5 890.5,1751.0 944.4,1772.6 998.2,1783.4 1052.1,1783.4 1106.0,1773.1 1159.8,1765.3 1213.7,1757.8 1267.5,1758.5 1321.3,1760.8 1375.2,1769.8" fill="none" stroke="#800080" stroke-width="6.4" stroke-linejoin="round"/>
<polyline points="298.2,1776.4 352.1,1775.4 405.9,1762.3 459.8,1735.9 513.6,1703.1 567.5,1698.3 621.3,1706.9 675.1,1625.1 729.0,1626.8 782.9,1685.0 836.7,1694.6 890.5,1697.3 944.4,1708.9 998.2,1737.9 1052.1,1754.7 1106.0,1769.8 1159.8,1778.9 1213.7,1781.9 1267.5,1783.4 1321.3,1783.4 1375.2,1783.4" fill="none" stroke="#ff8000" stroke-width="6.4" stroke-linejoin="round"/>
<polyline points="298.2,1713.4 352.1,1748.2 405.9,1732.1 459.8,1685.3 513.6,1689.0 567.5,1696.6 621.3,1613.8 675.1,1651.3 729.0,1691.8 782.9,1623.1 836.7,1662.6 890.5,1651.3 944.4,1710.2 998.2,1739.4 1052.1,1763.8 1106.0,1778.9 1159.8,1783.4 1213.7,1783.4 1267.5,1783.4 1321.3,1783.4 1375.2,1783.4" fill="none" stroke="#8080ff" stroke-width="6.4" stroke-linejoin="round"/>
<line x1="271" y1="1790.3" x2="1437" y2="1790.3" stroke="#000" stroke-width="4.2"/>
<text x="242.43" y="1793.40" font-size="23.30" font-weight="normal" font-style="normal" fill="#000" textLength="20.49" lengthAdjust="spacingAndGlyphs">0</text>
<text x="227.83" y="1730.46" font-size="23.30" font-weight="normal" font-style="normal" fill="#000" textLength="37.19" lengthAdjust="spacingAndGlyphs">25</text>
<text x="228.18" y="1667.53" font-size="23.30" font-weight="normal" font-style="normal" fill="#000" textLength="36.83" lengthAdjust="spacingAndGlyphs">50</text>
<text x="227.83" y="1604.59" font-size="23.30" font-weight="normal" font-style="normal" fill="#000" textLength="37.19" lengthAdjust="spacingAndGlyphs">75</text>
<text x="214.21" y="1541.65" font-size="23.30" font-weight="normal" font-style="normal" fill="#000" textLength="55.44" lengthAdjust="spacingAndGlyphs">100</text>
<text x="273.98" y="1819.00" font-size="24.00" font-weight="normal" font-style="normal" fill="#000" textLength="39.20" lengthAdjust="spacingAndGlyphs">+5</text>
<text x="490.67" y="1819.00" font-size="24.00" font-weight="normal" font-style="normal" fill="#000" textLength="37.22" lengthAdjust="spacingAndGlyphs">+4</text>
<text x="706.28" y="1819.00" font-size="24.00" font-weight="normal" font-style="normal" fill="#000" textLength="39.28" lengthAdjust="spacingAndGlyphs">+3</text>
<text x="918.07" y="1819.00" font-size="24.00" font-weight="normal" font-style="normal" fill="#000" textLength="39.36" lengthAdjust="spacingAndGlyphs">+2</text>
<text x="1130.65" y="1819.00" font-size="24.00" font-weight="normal" font-style="normal" fill="#000" textLength="35.41" lengthAdjust="spacingAndGlyphs">+1</text>
<text x="1365.99" y="1819.00" font-size="24.00" font-weight="normal" font-style="normal" fill="#000" textLength="19.67" lengthAdjust="spacingAndGlyphs">0</text>
<text x="337.8" y="1516.2" font-size="43.7" font-weight="bold" font-style="normal" fill="#000" text-anchor="start" textLength="1035.2" lengthAdjust="spacingAndGlyphs">Cumulative % coverage (Cg, PrL, IL, MO, M2)</text>
<text x="614.0" y="1860.3" font-size="32.3" font-weight="bold" font-style="normal" fill="#000" text-anchor="start" textLength="383.6" lengthAdjust="spacingAndGlyphs">AP from bregma (mm)</text>
<text x="124.5" y="1782.0" font-size="45.5" font-weight="bold" font-style="normal" fill="#000" text-anchor="start" textLength="248.7" lengthAdjust="spacingAndGlyphs" transform="rotate(-90 124.5 1782)">% Coverage</text>
<text x="175.8" y="1727.8" font-size="43.5" font-weight="bold" font-style="normal" fill="#000" text-anchor="start" textLength="144.2" lengthAdjust="spacingAndGlyphs" transform="rotate(-90 175.8 1727.8)">(LEFT)</text>
<polygon points="1509.6,1457 1545,1457 1545,1728.4 1565,1728.4 1527.3,1769.2 1488.8,1728.4 1509.6,1728.4" fill="#000"/>
<text x="1575.2" y="1566.3" font-size="44.5" font-weight="normal" font-style="italic" fill="#000" text-anchor="start" textLength="321.4" lengthAdjust="spacingAndGlyphs">Repeat across rats</text>
<text x="1620.5" y="1622.9" font-size="44.5" font-weight="normal" font-style="italic" fill="#000" text-anchor="start" textLength="231.3" lengthAdjust="spacingAndGlyphs">in task group</text>
<text x="1578.0" y="1680.7" font-size="44.5" font-weight="normal" font-style="italic" fill="#000" text-anchor="start" textLength="316.3" lengthAdjust="spacingAndGlyphs">and multiple ROIs</text>
<text x="10.0" y="61.0" font-size="69.5" font-weight="bold" font-style="normal" fill="#000" text-anchor="start">A</text>
<text x="760.3" y="61.1" font-size="69.5" font-weight="bold" font-style="normal" fill="#000" text-anchor="start">B</text>
<text x="11.0" y="667.6" font-size="69.5" font-weight="bold" font-style="normal" fill="#000" text-anchor="start">C</text>
<text x="758.5" y="665.3" font-size="69.5" font-weight="bold" font-style="normal" fill="#000" text-anchor="start">D</text>
<text x="10.9" y="1227.0" font-size="69.5" font-weight="bold" font-style="normal" fill="#000" text-anchor="start">E</text>
<text x="10.6" y="1545.4" font-size="69.5" font-weight="bold" font-style="normal" fill="#000" text-anchor="start">F</text>
</svg></body></html>
